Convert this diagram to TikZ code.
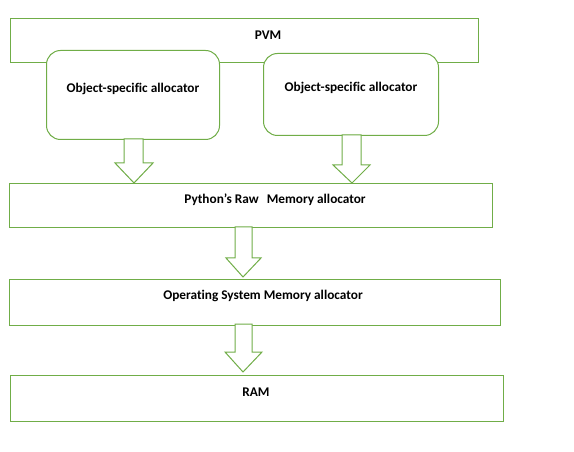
\documentclass[tikz,border=0pt]{standalone}
\usepackage{fontspec}
\setmainfont[Ligatures=NoCommon]{Carlito}
\definecolor{grn}{HTML}{70AD47}
\begin{document}
\begin{tikzpicture}[x=1bp,y=-1bp,
  box/.style={draw=grn,line width=1bp,fill=white},
  lbl/.style={font=\bfseries\fontsize{13.3bp}{15bp}\selectfont,text=black},
  blk/.style={draw=grn,line width=1bp,fill=white,line join=miter}]
\useasboundingbox (0,0) rectangle (574,452);
% boxes
\draw[box] (10,19) rectangle (478,63);
\node[box,rounded corners=14bp,minimum width=173bp,minimum height=89bp,anchor=north west] (osa1) at (46,50) {};
\node[box,rounded corners=14bp,minimum width=175bp,minimum height=82bp,anchor=north west] (osa2) at (263,53) {};
\node[box,minimum width=483bp,minimum height=44bp,anchor=north west] (raw) at (9,183) {};
\node[box,minimum width=491bp,minimum height=46bp,anchor=north west] (os) at (9,279) {};
\node[box,minimum width=493bp,minimum height=46bp,anchor=north west] (ram) at (10,375) {};
% labels
\node[lbl] (tpvm) at (268,35) {PVM};
\node[lbl] (t1) at (133,89) {Object-specific allocator};
\node[lbl] (t2) at (351,88) {Object-specific allocator};
\node[lbl] (t3) at (275,200) {Python’s Raw\hspace{0.6em}Memory allocator};
\node[lbl] (t4) at (263,296) {Operating System Memory allocator};
\node[lbl] (t5) at (256,392) {RAM};
% block arrows
\draw[blk] (124,139) -- (143,139) -- (143,163) -- (153,163) -- (134,183) -- (115,163) -- (124,163) -- cycle;
\draw[blk] (342,135) -- (361,135) -- (361,165) -- (370,165) -- (352,183) -- (333,165) -- (342,165) -- cycle;
\draw[blk] (235,227) -- (252,227) -- (252,258) -- (261,258) -- (243,277) -- (226,258) -- (235,258) -- cycle;
\draw[blk] (235,324) -- (252,324) -- (252,352) -- (262,352) -- (243,372) -- (225,352) -- (235,352) -- cycle;
\end{tikzpicture}
\end{document}
